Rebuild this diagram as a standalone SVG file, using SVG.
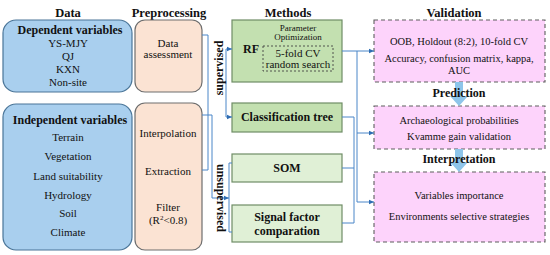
<svg xmlns="http://www.w3.org/2000/svg" width="550" height="255" viewBox="0 0 550 255" font-family="Liberation Serif, Tinos, DejaVu Serif, serif">
<defs>
<style>
text{font-family:'Liberation Serif','DejaVu Serif',serif;fill:#111;text-anchor:middle}
.h{font-size:12.5px;font-weight:bold}
.b{font-size:12px;font-weight:bold}
.t{font-size:11px}
.s{font-size:9px}
.v{font-size:10.5px}
.blue{fill:#a9cfee;stroke:#4a7598;stroke-width:1.2}
.peach{fill:#fbe3d3;stroke:#6e6e6e;stroke-width:1.2}
.g1{fill:#c3e0b0;stroke:#6f8d66;stroke-width:1.2}
.g2{fill:#e0f0d6;stroke:#6f8d66;stroke-width:1.2}
.pink{fill:#fdd3fb;stroke:#5e5e5e;stroke-width:1.1;stroke-dasharray:4,3}
.c{fill:none;stroke:#4a86c8;stroke-width:1}
.ca{fill:none;stroke:#4a86c8;stroke-width:1;marker-end:url(#ah)}
</style>
<marker id="ah" markerWidth="6" markerHeight="6" refX="5" refY="3" orient="auto" markerUnits="userSpaceOnUse">
<path d="M0,0.8 L5,3 L0,5.2 Z" fill="#2f6db3"/>
</marker>
</defs>
<rect width="550" height="255" fill="#fff"/>

<g id="headers">
<text class="h" x="68" y="17">Data</text>
<text class="h" x="169" y="17">Preprocessing</text>
<text class="h" x="288" y="17">Methods</text>
<text class="h" x="454" y="17">Validation</text>
</g>

<g id="dependent">
<rect class="blue" x="3" y="20" width="129" height="72" rx="13"/>
<text class="b" x="70" y="34">Dependent variables</text>
<text class="t" x="68" y="47">YS-MJY</text>
<text class="t" x="68" y="60">QJ</text>
<text class="t" x="68" y="73">KXN</text>
<text class="t" x="68" y="86">Non-site</text>
</g>

<g id="independent">
<rect class="blue" x="3" y="104" width="129" height="146" rx="13"/>
<text class="b" x="70" y="124">Independent variables</text>
<text class="t" x="68" y="141">Terrain</text>
<text class="t" x="68" y="160">Vegetation</text>
<text class="t" x="68" y="180">Land suitability</text>
<text class="t" x="68" y="199">Hydrology</text>
<text class="t" x="68" y="217">Soil</text>
<text class="t" x="68" y="236">Climate</text>
</g>

<g id="data-assessment">
<rect class="peach" x="135" y="20" width="67" height="72" rx="10"/>
<text class="t" x="168" y="47">Data</text>
<text class="t" x="168" y="58">assessment</text>
</g>

<g id="processing">
<rect class="peach" x="135" y="103" width="67" height="147" rx="10"/>
<text class="t" x="168" y="137">Interpolation</text>
<text class="t" x="168" y="175">Extraction</text>
<text class="t" x="168" y="211">Filter</text>
<text class="t" x="168" y="224">(R<tspan font-size="7" dy="-4">2</tspan><tspan dy="4">&lt;0.8)</tspan></text>
</g>

<g id="rf">
<rect class="g1" x="232" y="20" width="110" height="62"/>
<text class="b" x="251" y="53">RF</text>
<text class="s" x="298" y="31">Parameter</text>
<text class="s" x="298" y="40">Optimization</text>
<rect x="263" y="46" width="70" height="25" fill="none" stroke="#444" stroke-width="0.9" stroke-dasharray="2,2"/>
<text class="t" x="298" y="57">5-fold CV</text>
<text class="t" x="298" y="68">random search</text>
</g>

<g id="classification-tree">
<rect class="g1" x="232" y="103" width="110" height="29"/>
<text class="b" x="287" y="121">Classification tree</text>
</g>

<g id="som">
<rect class="g2" x="232" y="154" width="110" height="28"/>
<text class="b" x="287" y="172">SOM</text>
</g>

<g id="signal-factor">
<rect class="g2" x="232" y="205" width="110" height="37"/>
<text class="b" x="287" y="221">Signal factor</text>
<text class="b" x="287" y="235">comparation</text>
</g>

<g id="validation">
<rect class="pink" x="374" y="20" width="171" height="62"/>
<text class="v" x="459" y="45">OOB, Holdout (8:2), 10-fold CV</text>
<text class="v" x="459" y="62">Accuracy, confusion matrix, kappa,</text>
<text class="v" x="459" y="74">AUC</text>
</g>

<g id="prediction">
<rect class="pink" x="374" y="106" width="171" height="43"/>
<text class="v" x="459" y="124">Archaeological probabilities</text>
<text class="v" x="459" y="140">Kvamme gain validation</text>
</g>

<g id="interpretation">
<rect class="pink" x="374" y="172" width="171" height="70"/>
<text class="v" x="459" y="199">Variables importance</text>
<text class="v" x="459" y="220">Environments selective strategies</text>
</g>

<g id="connectors">
<path class="c" d="M202,35 H208 V170 H202"/>
<path class="ca" d="M202,115 H212 V198 H229"/>
<path class="c" d="M226,49 V117"/>
<path class="ca" d="M226,49 H232"/>
<path class="ca" d="M226,117 H232"/>
<path class="c" d="M232,163 H229 V232 H232"/>
<path class="ca" d="M342,51 H374"/>
<path class="ca" d="M357,51 V202 H374"/>
<path class="c" d="M342,117 H354 V223 H342"/>
<path class="c" d="M342,168 H354"/>
<path class="ca" d="M357,133 H374"/>
<path d="M455,82 H463 V96 H468 L459,106 L450,96 H455 Z" fill="#8ec5ea"/>
<path d="M455,149 H463 V162 H468 L459,172 L450,162 H455 Z" fill="#8ec5ea"/>
<text class="b" x="219" y="68" transform="rotate(-90 219 68)" dy="4">supervised</text>
<text class="b" x="221" y="198" transform="rotate(90 221 198)" dy="4">unsupervised</text>
<text class="b" x="459" y="97">Prediction</text>
<text class="b" x="459" y="163">Interpretation</text>
</g>
</svg>
